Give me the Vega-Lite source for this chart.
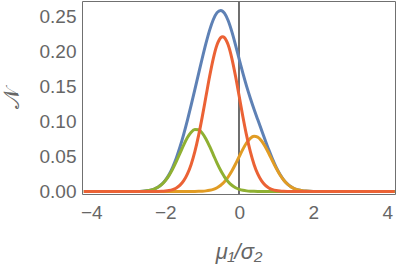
{
  "$schema": "https://vega.github.io/schema/vega-lite/v6.json",
  "autosize": "none",
  "width": 313,
  "height": 193,
  "padding": {"left": 82, "top": 1, "right": 5, "bottom": 76},
  "background": "white",
  "config": {
    "view": {"stroke": null},
    "font": "Liberation Sans",
    "axis": {"grid": false, "domainColor": "#707070", "tickColor": "#707070", "labelColor": "#666666", "titleColor": "#666666", "labelFont": "Liberation Sans", "titleFont": "Liberation Sans", "labelFontSize": 19, "titleFontSize": 22, "titleFontWeight": "normal", "tickSize": 0, "labelOverlap": false}
  },
  "data": {"values": [
    {"x": -4.2, "t": 0, "o": 0, "g": 0, "r": 0},
    {"x": -3.6, "t": 0, "o": 0, "g": 0, "r": 0},
    {"x": -3.0, "t": 0.00002, "o": 0, "g": 0.00002, "r": 0},
    {"x": -2.8, "t": 0.00011, "o": 0, "g": 0.00011, "r": 0},
    {"x": -2.6, "t": 0.0005, "o": 0, "g": 0.0005, "r": 0},
    {"x": -2.5, "t": 0.00101, "o": 0, "g": 0.001, "r": 0.00001},
    {"x": -2.4, "t": 0.00193, "o": 0, "g": 0.00191, "r": 0.00002},
    {"x": -2.3, "t": 0.00351, "o": 0, "g": 0.00346, "r": 0.00006},
    {"x": -2.2, "t": 0.00609, "o": 0, "g": 0.00596, "r": 0.00014},
    {"x": -2.1, "t": 0.01008, "o": 0, "g": 0.00977, "r": 0.00031},
    {"x": -2.0, "t": 0.01592, "o": 0, "g": 0.01525, "r": 0.00067},
    {"x": -1.9, "t": 0.02402, "o": 0, "g": 0.02264, "r": 0.00138},
    {"x": -1.8, "t": 0.03468, "o": 0, "g": 0.03197, "r": 0.00271},
    {"x": -1.7, "t": 0.04802, "o": 0, "g": 0.04293, "r": 0.00509},
    {"x": -1.6, "t": 0.06393, "o": 0, "g": 0.05485, "r": 0.00908},
    {"x": -1.5, "t": 0.08211, "o": 0.00001, "g": 0.06666, "r": 0.01545},
    {"x": -1.4, "t": 0.10209, "o": 0.00002, "g": 0.07706, "r": 0.02503},
    {"x": -1.3, "t": 0.12346, "o": 0.00004, "g": 0.08475, "r": 0.03867},
    {"x": -1.2, "t": 0.14566, "o": 0.00009, "g": 0.08864, "r": 0.05693},
    {"x": -1.1, "t": 0.16823, "o": 0.0002, "g": 0.0882, "r": 0.07983},
    {"x": -1.0, "t": 0.19061, "o": 0.00043, "g": 0.08348, "r": 0.1067},
    {"x": -0.9, "t": 0.21184, "o": 0.00088, "g": 0.07516, "r": 0.1358},
    {"x": -0.8, "t": 0.23086, "o": 0.00169, "g": 0.06437, "r": 0.1648},
    {"x": -0.7, "t": 0.24603, "o": 0.00309, "g": 0.05244, "r": 0.1905},
    {"x": -0.6, "t": 0.25581, "o": 0.00537, "g": 0.04064, "r": 0.2098},
    {"x": -0.5, "t": 0.25903, "o": 0.00887, "g": 0.02996, "r": 0.2202},
    {"x": -0.45, "t": 0.25791, "o": 0.01117, "g": 0.02524, "r": 0.2215},
    {"x": -0.4, "t": 0.2551, "o": 0.0139, "g": 0.021, "r": 0.2202},
    {"x": -0.3, "t": 0.24451, "o": 0.0207, "g": 0.01401, "r": 0.2098},
    {"x": -0.2, "t": 0.22864, "o": 0.02925, "g": 0.00889, "r": 0.1905},
    {"x": -0.1, "t": 0.20944, "o": 0.03928, "g": 0.00536, "r": 0.1648},
    {"x": 0.0, "t": 0.18896, "o": 0.05008, "g": 0.00308, "r": 0.1358},
    {"x": 0.1, "t": 0.16901, "o": 0.06063, "g": 0.00168, "r": 0.1067},
    {"x": 0.2, "t": 0.15041, "o": 0.06971, "g": 0.00087, "r": 0.07983},
    {"x": 0.3, "t": 0.13348, "o": 0.07612, "g": 0.00043, "r": 0.05693},
    {"x": 0.4, "t": 0.11779, "o": 0.07892, "g": 0.0002, "r": 0.03867},
    {"x": 0.5, "t": 0.10282, "o": 0.0777, "g": 0.00009, "r": 0.02503},
    {"x": 0.6, "t": 0.08815, "o": 0.07266, "g": 0.00004, "r": 0.01545},
    {"x": 0.7, "t": 0.07361, "o": 0.06451, "g": 0.00002, "r": 0.00908},
    {"x": 0.8, "t": 0.05949, "o": 0.0544, "g": 0, "r": 0.00509},
    {"x": 0.9, "t": 0.04627, "o": 0.04356, "g": 0, "r": 0.00271},
    {"x": 1.0, "t": 0.0345, "o": 0.03312, "g": 0, "r": 0.00138},
    {"x": 1.1, "t": 0.02459, "o": 0.02392, "g": 0, "r": 0.00067},
    {"x": 1.2, "t": 0.01671, "o": 0.0164, "g": 0, "r": 0.00031},
    {"x": 1.3, "t": 0.01082, "o": 0.01068, "g": 0, "r": 0.00014},
    {"x": 1.4, "t": 0.00666, "o": 0.0066, "g": 0, "r": 0.00006},
    {"x": 1.5, "t": 0.0039, "o": 0.00388, "g": 0, "r": 0.00002},
    {"x": 1.6, "t": 0.00216, "o": 0.00216, "g": 0, "r": 0},
    {"x": 1.7, "t": 0.00115, "o": 0.00115, "g": 0, "r": 0},
    {"x": 1.8, "t": 0.00058, "o": 0.00058, "g": 0, "r": 0},
    {"x": 1.9, "t": 0.00028, "o": 0.00028, "g": 0, "r": 0},
    {"x": 2.0, "t": 0.00013, "o": 0.00013, "g": 0, "r": 0},
    {"x": 2.2, "t": 0.00002, "o": 0.00002, "g": 0, "r": 0},
    {"x": 2.6, "t": 0, "o": 0, "g": 0, "r": 0},
    {"x": 3.2, "t": 0, "o": 0, "g": 0, "r": 0},
    {"x": 4.2, "t": 0, "o": 0, "g": 0, "r": 0}
  ]},
  "resolve": {"axis": {"x": "independent", "y": "independent"}},
  "layer": [
    {
      "mark": {"type": "rule", "color": "#707070", "strokeWidth": 0.9},
      "encoding": {
        "x": {"datum": 0, "type": "quantitative", "scale": {"domain": [-4.25, 4.21], "nice": false, "zero": false}, "axis": null}
      }
    },
    {
      "mark": {"type": "line", "color": "#5E81B5", "strokeWidth": 3, "interpolate": "monotone"},
      "encoding": {
        "x": {"field": "x", "type": "quantitative", "scale": {"domain": [-4.25, 4.21], "nice": false, "zero": false},
          "axis": {"orient": "bottom", "title": "μ₁/σ₂", "titleFontStyle": "italic", "titlePadding": 19, "labelPadding": 9,
            "values": [-4, -3.5, -3, -2.5, -2, -1.5, -1, -0.5, 0, 0.5, 1, 1.5, 2, 2.5, 3, 3.5, 4],
            "labelExpr": "datum.value % 2 === 0 ? format(datum.value, 'd') : ''",
            "encode": {"ticks": {"update": {"y2": {"signal": "datum.value % 2 === 0 ? -4.5 : -2.5"}}}}}},
        "y": {"field": "t", "type": "quantitative", "scale": {"domain": [-0.0036, 0.2725], "nice": false, "zero": false},
          "axis": {"orient": "left", "title": "𝒩", "titlePadding": 16, "labelPadding": 6,
            "values": [0, 0.01, 0.02, 0.03, 0.04, 0.05, 0.06, 0.07, 0.08, 0.09, 0.1, 0.11, 0.12, 0.13, 0.14, 0.15, 0.16, 0.17, 0.18, 0.19, 0.2, 0.21, 0.22, 0.23, 0.24, 0.25, 0.26, 0.27],
            "labelExpr": "round(datum.value * 100) % 5 === 0 ? format(datum.value, '.2f') : ''",
            "encode": {"ticks": {"update": {"x2": {"signal": "round(datum.value * 100) % 5 === 0 ? 4.5 : 2.5"}}}}}}
      }
    },
    {
      "mark": {"type": "line", "color": "#E19C24", "strokeWidth": 3, "interpolate": "monotone"},
      "encoding": {
        "x": {"field": "x", "type": "quantitative", "scale": {"domain": [-4.25, 4.21], "nice": false, "zero": false},
          "axis": {"orient": "top", "title": null, "labels": false,
            "values": [-4, -3.5, -3, -2.5, -2, -1.5, -1, -0.5, 0, 0.5, 1, 1.5, 2, 2.5, 3, 3.5, 4],
            "encode": {"ticks": {"update": {"y2": {"signal": "datum.value % 2 === 0 ? 4.5 : 2.5"}}}}}},
        "y": {"field": "o", "type": "quantitative", "scale": {"domain": [-0.0036, 0.2725], "nice": false, "zero": false},
          "axis": {"orient": "right", "title": null, "labels": false,
            "values": [0, 0.01, 0.02, 0.03, 0.04, 0.05, 0.06, 0.07, 0.08, 0.09, 0.1, 0.11, 0.12, 0.13, 0.14, 0.15, 0.16, 0.17, 0.18, 0.19, 0.2, 0.21, 0.22, 0.23, 0.24, 0.25, 0.26, 0.27],
            "encode": {"ticks": {"update": {"x2": {"signal": "round(datum.value * 100) % 5 === 0 ? -4.5 : -2.5"}}}}}}
      }
    },
    {
      "mark": {"type": "line", "color": "#8FB032", "strokeWidth": 3, "interpolate": "monotone"},
      "encoding": {
        "x": {"field": "x", "type": "quantitative", "scale": {"domain": [-4.25, 4.21], "nice": false, "zero": false}, "axis": null},
        "y": {"field": "g", "type": "quantitative", "scale": {"domain": [-0.0036, 0.2725], "nice": false, "zero": false}, "axis": null}
      }
    },
    {
      "mark": {"type": "line", "color": "#EB6235", "strokeWidth": 3, "interpolate": "monotone"},
      "encoding": {
        "x": {"field": "x", "type": "quantitative", "scale": {"domain": [-4.25, 4.21], "nice": false, "zero": false}, "axis": null},
        "y": {"field": "r", "type": "quantitative", "scale": {"domain": [-0.0036, 0.2725], "nice": false, "zero": false}, "axis": null}
      }
    }
  ]
}
